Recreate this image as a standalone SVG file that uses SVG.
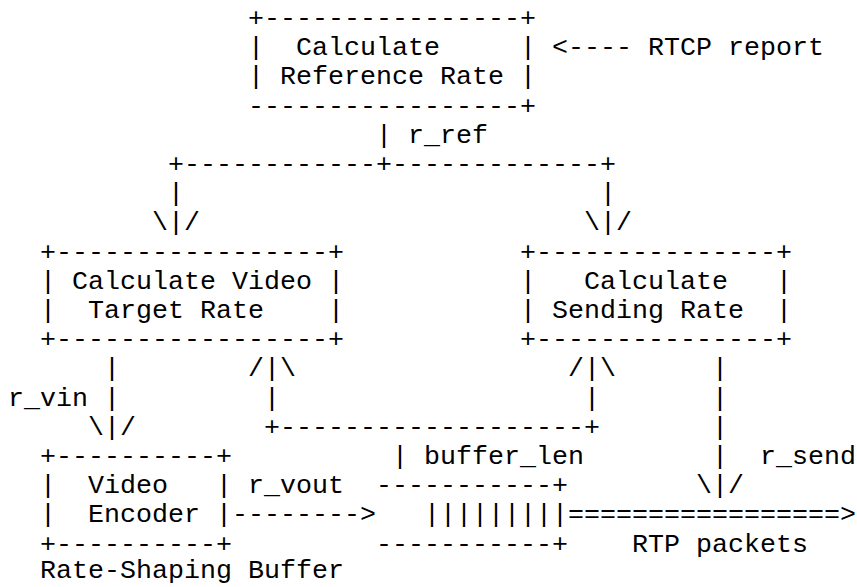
<svg xmlns="http://www.w3.org/2000/svg" width="857" height="587" viewBox="0 0 857 587" xml:space="preserve">
<style>
text { font-family: "Liberation Mono", "Courier New", monospace; font-size: 26.667px; fill: #000; white-space: pre; }
</style>
<rect width="857" height="587" fill="#fff"/>
<g id="ref-rate">
<text x="248" y="26">+----------------+</text>
<text x="248" y="55.2">|  Calculate     |</text>
<text x="248" y="84.4">| Reference Rate |</text>
<text x="248" y="113.6">-----------------+</text>
</g>
<g id="video-target">
<text x="40" y="259.6">+-----------------+</text>
<text x="40" y="288.8">| Calculate Video |</text>
<text x="40" y="318">|  Target Rate    |</text>
<text x="40" y="347.2">+-----------------+</text>
</g>
<g id="sending-rate">
<text x="520" y="259.6">+---------------+</text>
<text x="520" y="288.8">|   Calculate   |</text>
<text x="520" y="318">| Sending Rate  |</text>
<text x="520" y="347.2">+---------------+</text>
</g>
<g id="video-encoder">
<text x="40" y="464">+----------+</text>
<text x="40" y="493.2">|  Video   |</text>
<text x="40" y="522.4">|  Encoder |</text>
<text x="40" y="551.6">+----------+</text>
</g>
<g id="rate-shaping-buffer">
<text x="376" y="493.2">-----------+</text>
<text x="424" y="522.4">|||||||||</text>
<text x="376" y="551.6">-----------+</text>
<text x="40" y="577.5">Rate-Shaping Buffer</text>
</g>
<g id="connectors">
<text x="552" y="55.2">&lt;---- RTCP report</text>
<text x="376" y="142.8">| r_ref</text>
<text x="168" y="172">+------------+-------------+</text>
<text x="168" y="201.2">|</text>
<text x="600" y="201.2">|</text>
<text x="152" y="230.4">\|/</text>
<text x="584" y="230.4">\|/</text>
<text x="104" y="376.4">|</text>
<text x="248" y="376.4">/|\</text>
<text x="568" y="376.4">/|\</text>
<text x="712" y="376.4">|</text>
<text x="8" y="405.6">r_vin |</text>
<text x="264" y="405.6">|</text>
<text x="584" y="405.6">|</text>
<text x="712" y="405.6">|</text>
<text x="88" y="434.8">\|/</text>
<text x="264" y="434.8">+-------------------+</text>
<text x="712" y="434.8">|</text>
<text x="392" y="464">| buffer_len</text>
<text x="712" y="464">|</text>
<text x="760" y="464">r_send</text>
<text x="248" y="493.2">r_vout</text>
<text x="696" y="493.2">\|/</text>
<text x="232" y="522.4">--------&gt;</text>
<text x="568" y="522.4">=================&gt;</text>
<text x="632" y="551.6">RTP packets</text>
</g>
</svg>
